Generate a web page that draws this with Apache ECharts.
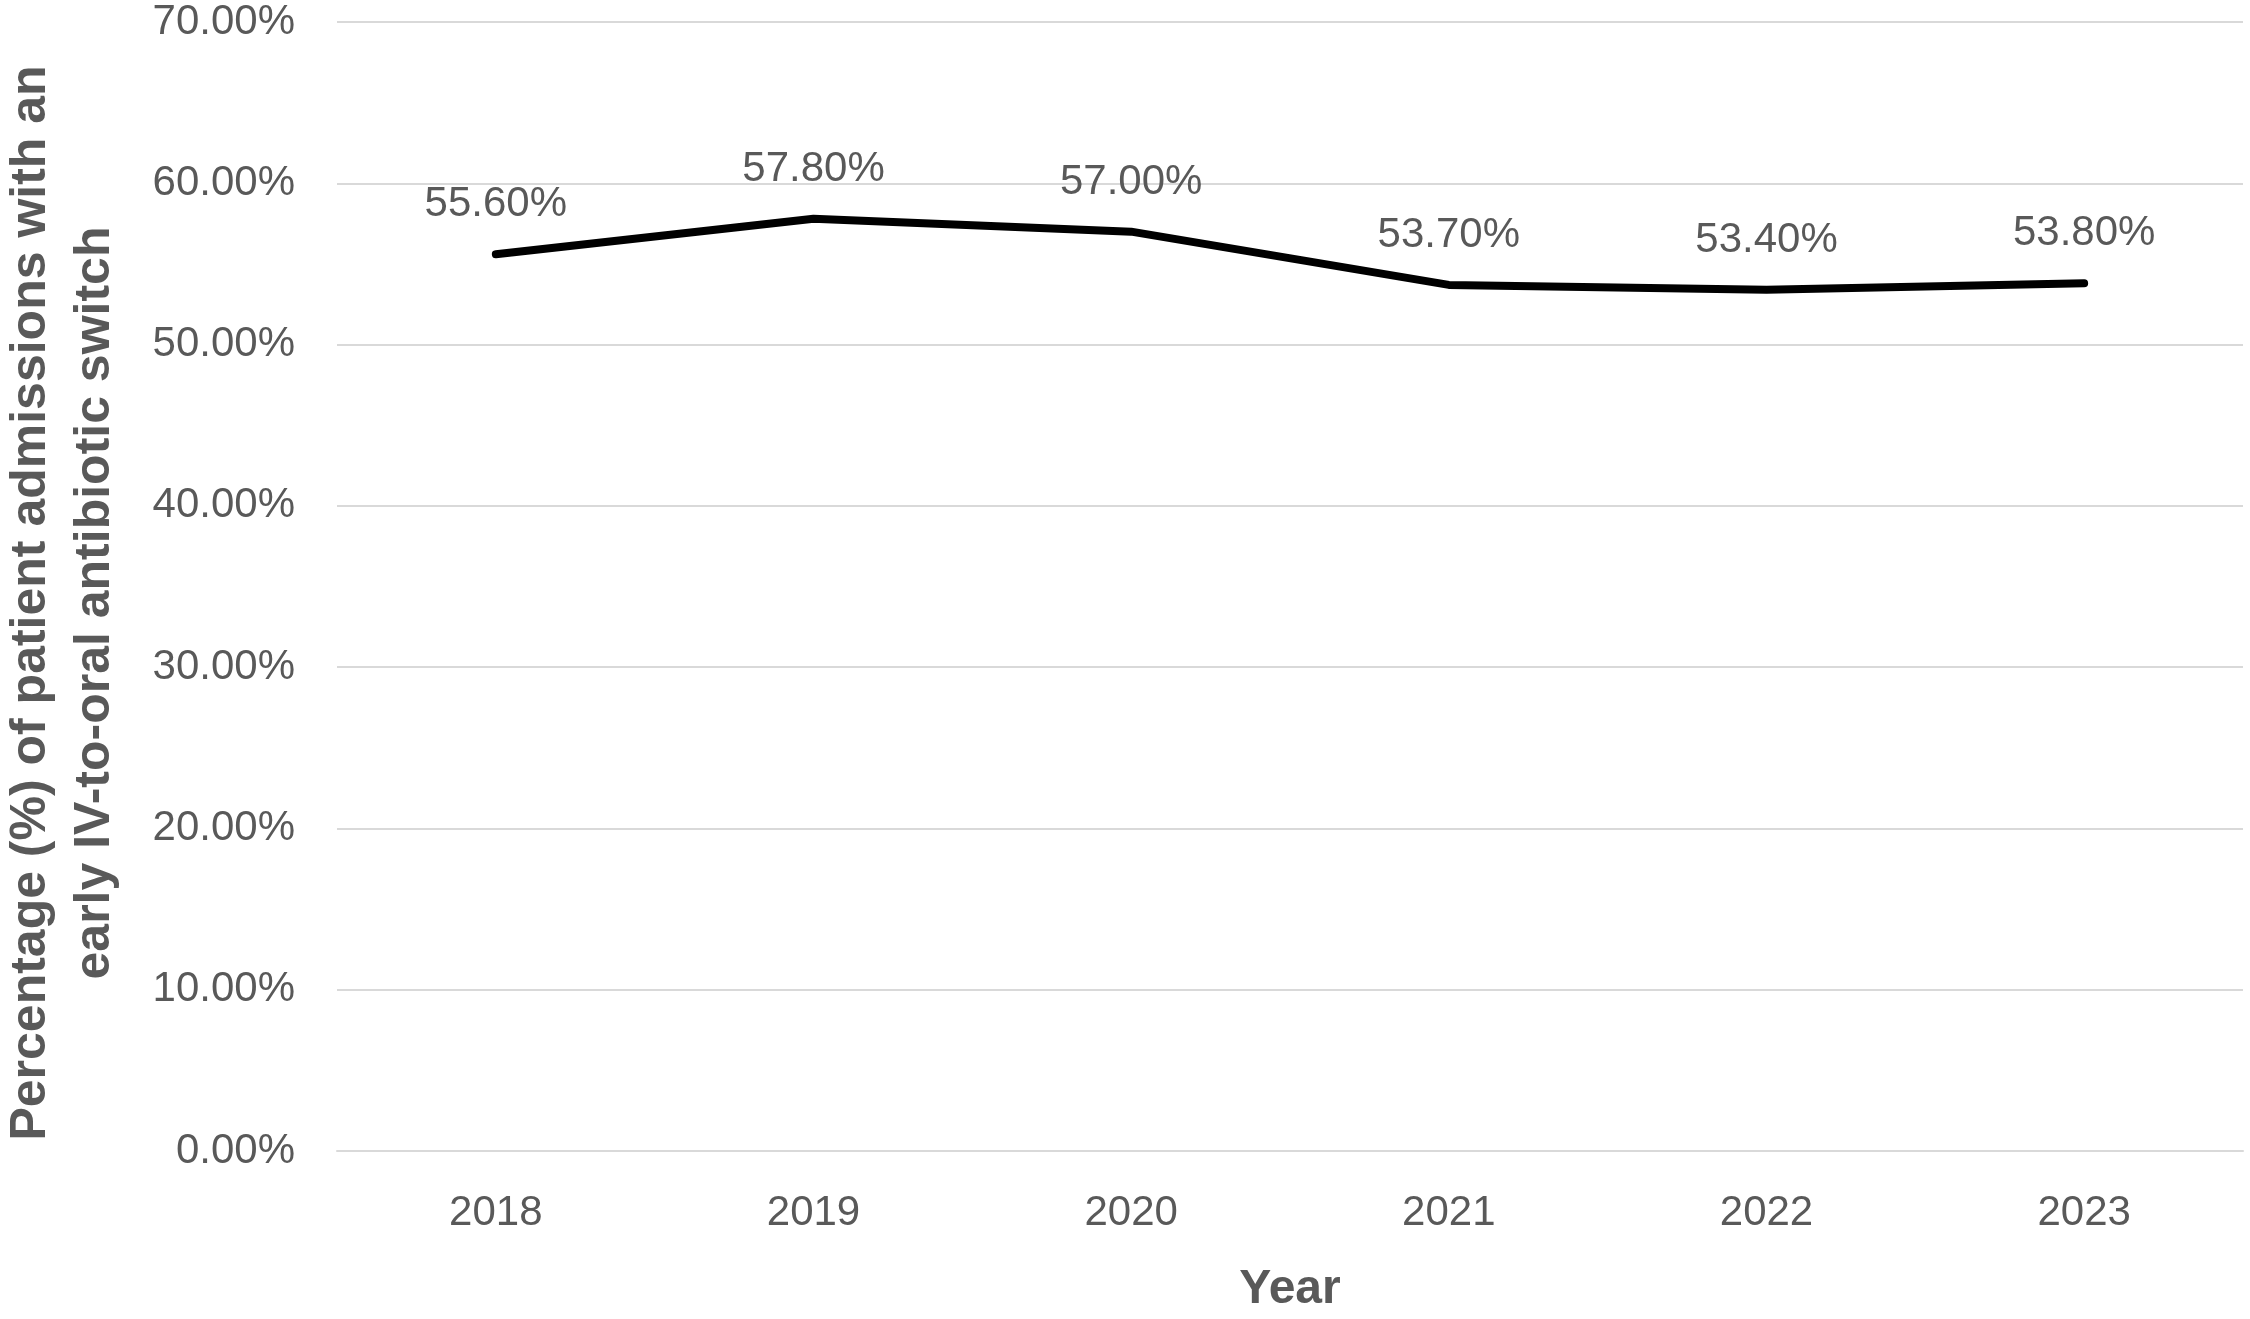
<!DOCTYPE html>
<html>
<head>
<meta charset="utf-8">
<script src="https://cdn.jsdelivr.net/npm/echarts@6/dist/echarts.min.js"></script>
<style>
html,body{margin:0;padding:0;background:#fff;}
#chart{width:2250px;height:1319px;}
</style>
</head>
<body>
<div id="chart"></div>
<script>
const years = ['2018', '2019', '2020', '2021', '2022', '2023'];
const switchRates = [55.6, 57.8, 57.0, 53.7, 53.4, 53.8];
const yTicks = { min: 0, max: 70, interval: 10 };
const xTitle = 'Year';
const yTitle = 'Percentage (%) of patient admissions with an\nearly IV-to-oral antibiotic switch';

const chart = echarts.init(document.getElementById('chart'), null, { renderer: 'canvas' });
const font = '"Liberation Sans", Arial, sans-serif';
chart.setOption({
  backgroundColor: '#ffffff',
  animation: false,
  grid: { left: 337, right: 7, top: 22, bottom: 155, containLabel: false },
  graphic: [{
    type: 'text',
    x: 63,
    y: 603,
    rotation: Math.PI / 2,
    style: {
      text: yTitle,
      fill: '#595959',
      fontSize: 50,
      fontWeight: 'bold',
      fontFamily: font,
      lineHeight: 64,
      align: 'center',
      verticalAlign: 'middle'
    }
  }],
  xAxis: {
    type: 'category',
    data: years,
    boundaryGap: true,
    axisLine: { show: true, lineStyle: { color: '#d9d9d9', width: 2 } },
    axisTick: { show: false },
    axisLabel: { color: '#595959', fontSize: 42, fontFamily: font, margin: 41 },
    name: xTitle,
    nameLocation: 'middle',
    nameGap: 115,
    nameTextStyle: { color: '#595959', fontSize: 48, fontWeight: 'bold', fontFamily: font }
  },
  yAxis: {
    type: 'value',
    min: yTicks.min,
    max: yTicks.max,
    interval: yTicks.interval,
    axisLine: { show: false },
    axisTick: { show: false },
    splitLine: { lineStyle: { color: '#d9d9d9', width: 2 } },
    axisLabel: {
      color: '#595959', fontSize: 42, fontFamily: font, margin: 42,
      formatter: v => v.toFixed(2) + '%'
    }
  },
  series: [{
    type: 'line',
    data: switchRates,
    showSymbol: true,
    symbol: 'circle',
    symbolSize: 1,
    itemStyle: { color: '#000000' },
    lineStyle: { color: '#000000', width: 8, cap: 'round', join: 'round' },
    label: {
      show: true,
      position: 'top',
      distance: 28,
      color: '#595959',
      fontSize: 42,
      fontFamily: font,
      formatter: p => p.value.toFixed(2) + '%'
    }
  }]
});
</script>
</body>
</html>
